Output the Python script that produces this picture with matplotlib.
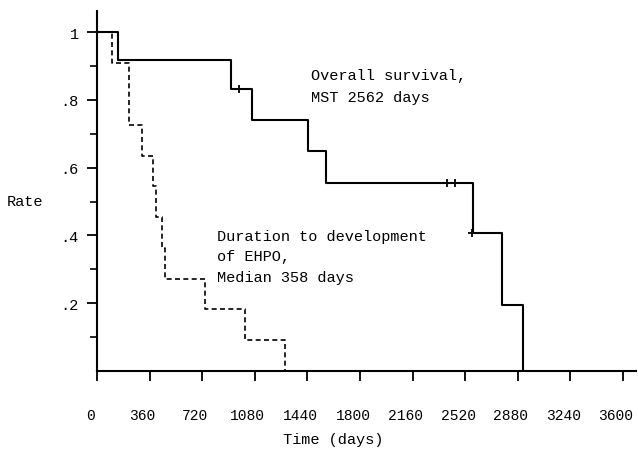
import numpy as np
import matplotlib
matplotlib.use("Agg")
import matplotlib.pyplot as plt
import matplotlib.transforms as mtransforms
from matplotlib.ticker import FixedLocator

plt.rcParams['font.family'] = ['Liberation Mono', 'DejaVu Sans Mono']

# overall survival (Kaplan-Meier, solid)
os_days = [0, 144, 918, 1062, 1445, 1568, 2575, 2774, 2918]
os_rate = [1.0, 0.917, 0.833, 0.741, 0.648, 0.556, 0.406, 0.195, 0.0]
os_cens_days = [973, 2397, 2452, 2568]
os_cens_rate = [0.833, 0.556, 0.556, 0.406]

# duration to development of EHPO (dashed)
ehpo_days = [0, 103, 219, 308, 384, 404, 445, 466, 740, 1014, 1288]
ehpo_rate = [1.0, 0.909, 0.727, 0.636, 0.545, 0.455, 0.364, 0.273, 0.182, 0.091, 0.0]

xticks = [0, 360, 720, 1080, 1440, 1800, 2160, 2520, 2880, 3240, 3600]
yticks = [0.2, 0.4, 0.6, 0.8, 1.0]
ylabels = ['.2', '.4', '.6', '.8', '1']

fig = plt.figure(figsize=(6.38, 4.52), dpi=100)
ax = fig.add_axes([0.152, 0.177, 0.845, 0.796])

ax.step(os_days, os_rate, where='post', color='black', lw=1.5)
ax.step(ehpo_days, ehpo_rate, where='post', color='black', lw=1.2,
        linestyle=(0, (3, 2)))
ax.plot(os_cens_days, os_cens_rate, '+', color='black', ms=6, mew=1.3)

ax.set_xlim(0, 3690)
ax.set_ylim(0, 1.062)
for s in ['top', 'right']:
    ax.spines[s].set_visible(False)
for s in ['left', 'bottom']:
    ax.spines[s].set_linewidth(1.5)

ax.set_xticks(xticks)
ax.set_xticklabels([str(t) for t in xticks])
ax.set_yticks(yticks)
ax.set_yticklabels(ylabels)
ax.yaxis.set_minor_locator(FixedLocator([0.1, 0.3, 0.5, 0.7, 0.9]))
ax.tick_params(axis='x', direction='out', length=7, width=1.3, pad=20, labelsize=10.5)
ax.tick_params(axis='y', direction='out', length=7, width=1.3, pad=6, labelsize=11)
ax.tick_params(axis='y', which='minor', direction='out', length=5, width=1.2)

# tick labels sit a little left of their ticks in the original
shift = mtransforms.ScaledTranslation(-5 / 72, 0, fig.dpi_scale_trans)
for lab in ax.get_xticklabels():
    lab.set_transform(lab.get_transform() + shift)

ax.text(1466, 0.895, 'Overall survival,\nMST 2562 days', fontsize=11,
        va='top', ha='left', linespacing=1.75)
ax.text(822, 0.42, 'Duration to development\nof EHPO,\nMedian 358 days', fontsize=11,
        va='top', ha='left', linespacing=1.6)

fig.text(7 / 638, 1 - 202 / 452, 'Rate', fontsize=11, va='center', ha='left')
fig.text(283 / 638, 1 - 440 / 452, 'Time (days)', fontsize=11, va='center', ha='left')

fig.savefig('out.png', dpi=100)
